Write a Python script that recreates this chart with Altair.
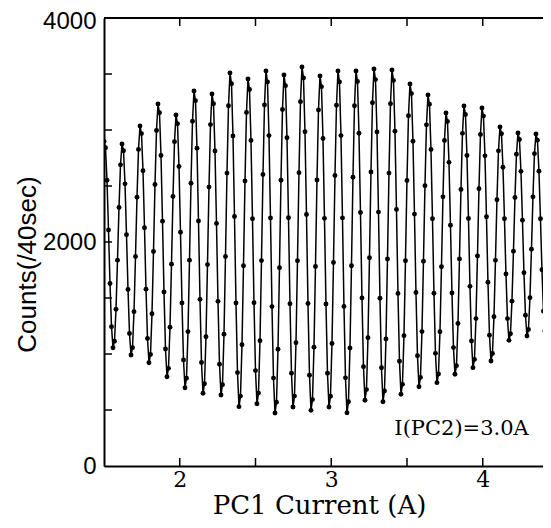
import altair as alt
import pandas as pd

# Scan of PC1 current (A): regular grid
x_start = 1.50
x_step = 0.0099

# Counts (/40sec), one row per oscillation period
counts = [
    2900, 2841, 2551, 2107, 1629, 1244, 1056, 1114, 1400, 1838, 2309, 2689,
    2875, 2815, 2519, 2065, 1577, 1183, 991, 1056, 1378, 1870, 2400, 2827,
    3036, 2968, 2636, 2127, 1579, 1138, 922, 996, 1359, 1915, 2514, 2996,
    3232, 3154, 2772, 2185, 1554, 1045, 797, 872, 1239, 1802, 2407, 2896,
    3134, 3056, 2674, 2087, 1456, 947, 699, 784, 1200, 1838, 2524, 3078,
    3348, 3262, 2838, 2187, 1488, 924, 649, 735, 1154, 1798, 2490, 3048,
    3321, 3235, 2813, 2166, 1470, 908, 634, 726, 1177, 1870, 2615, 3216,
    3509, 3414, 2946, 2228, 1456, 834, 530, 624, 1083, 1788, 2545, 3157,
    3455, 3362, 2907, 2208, 1458, 852, 556, 651, 1118, 1834, 2603, 3224,
    3527, 3429, 2950, 2214, 1423, 785, 473, 570, 1043, 1771, 2552, 3183,
    3491, 3396, 2931, 2216, 1449, 829, 527, 624, 1101, 1832, 2619, 3253,
    3563, 3465, 2984, 2245, 1451, 810, 497, 593, 1061, 1781, 2554, 3178,
    3482, 3387, 2924, 2211, 1446, 828, 527, 623, 1094, 1817, 2594, 3221,
    3527, 3429, 2950, 2215, 1425, 787, 476, 574, 1053, 1788, 2578, 3216,
    3527, 3433, 2971, 2263, 1501, 887, 587, 682, 1146, 1859, 2625, 3243,
    3545, 3450, 2983, 2267, 1498, 877, 574, 669, 1134, 1848, 2615, 3234,
    3536, 3443, 2989, 2291, 1541, 935, 640, 729, 1164, 1832, 2549, 3128,
    3411, 3325, 2900, 2249, 1549, 984, 708, 791, 1200, 1828, 2502, 3046,
    3312, 3230, 2827, 2208, 1543, 1006, 744, 821, 1199, 1779, 2403, 2906,
    3152, 3077, 2711, 2149, 1545, 1057, 819, 896, 1272, 1849, 2469, 2970,
    3214, 3139, 2772, 2210, 1604, 1116, 878, 952, 1316, 1875, 2475, 2960,
    3196, 3124, 2769, 2225, 1640, 1168, 938, 1005, 1333, 1836, 2377, 2814,
    3027, 2966, 2667, 2208, 1714, 1316, 1122, 1181, 1472, 1918, 2397, 2784,
    2973, 2915, 2631, 2194, 1725, 1346, 1161, 1219, 1502, 1936, 2403, 2789,
    2964, 2908, 2632, 2208, 1752, 1384, 1205, 1259, 1525, 1934, 2373, 2727,
]

x_label_values = [2, 3, 4]
y_label_values = [0, 2000, 4000]
x_tick_values = [2.0, 2.5, 3.0, 3.5, 4.0]
y_tick_values = [500, 1000, 1500, 2000, 2500, 3000, 3500]

annotation_text = ["I(PC2)=3.0A"]
annotation_x = [3.86]
annotation_y = [330]

SERIF = "'DejaVu Serif', 'Liberation Serif', 'Noto Serif', serif"
SANS = "'Liberation Sans', Arial, sans-serif"

df = pd.DataFrame({
    "current": [x_start + i * x_step for i in range(len(counts))],
    "counts": counts,
})
xt = pd.DataFrame({"v": x_tick_values})
yt = pd.DataFrame({"v": y_tick_values})
ann = pd.DataFrame({"x": annotation_x, "y": annotation_y, "t": annotation_text})

W, H = 439, 448
x_max = 1.5 + W / 151.5
xscale = alt.Scale(domain=[1.5, x_max], nice=False, zero=False)
yscale = alt.Scale(domain=[0, 4000], nice=False)

x_axis = alt.Axis(
    values=x_label_values, title="PC1 Current (A)", grid=False, ticks=False,
    domain=True, domainColor="black", domainWidth=2,
    labelFont=SERIF, labelFontSize=22, labelPadding=3, labelColor="black",
    labelFlush=False, format="d",
    titleFont=SERIF, titleFontSize=26, titleFontWeight="normal", titleColor="black",
    titleX=215, titleY=39, titleBaseline="middle", titleAlign="center",
)
y_axis = alt.Axis(
    values=y_label_values, title="Counts(/40sec)", grid=False, ticks=False,
    domain=True, domainColor="black", domainWidth=2,
    labelFont=SANS, labelFontSize=24, labelPadding=8, labelColor="black",
    labelFlush=False, format="d",
    labelOffset={"condition": {"test": "datum.value == 4000", "value": 3}, "value": 0},
    titleFont=SANS, titleFontSize=26, titleFontWeight="normal", titleColor="black",
    titleX=-77, titleY=246, titleBaseline="middle", titleAlign="center", titleAngle=270,
)

X = alt.X("current:Q", scale=xscale, axis=x_axis)
Y = alt.Y("counts:Q", scale=yscale, axis=y_axis)

base = alt.Chart(df)
line = base.mark_line(color="black", strokeWidth=1.5, clip=True).encode(x=X, y=Y)
pts = base.mark_circle(color="black", size=24, opacity=1, clip=True).encode(x=X, y=Y)

tick_len = 8
ylt = alt.Chart(yt).mark_rule(color="black", strokeWidth=1.5).encode(
    y=alt.Y("v:Q", scale=yscale, axis=y_axis), x=alt.value(0), x2=alt.value(tick_len))
xbt = alt.Chart(xt).mark_rule(color="black", strokeWidth=1.5).encode(
    x=alt.X("v:Q", scale=xscale, axis=x_axis), y=alt.value(H), y2=alt.value(H - tick_len))
xtt = alt.Chart(xt).mark_rule(color="black", strokeWidth=1.5).encode(
    x=alt.X("v:Q", scale=xscale, axis=x_axis), y=alt.value(0), y2=alt.value(tick_len))
top_line = alt.Chart(xt).mark_rule(color="black", strokeWidth=2).encode(
    y=alt.value(0), x=alt.value(0), x2=alt.value(W))

label = alt.Chart(ann).mark_text(
    font=SERIF, fontSize=21, color="black", align="center", baseline="middle"
).encode(
    x=alt.X("x:Q", scale=xscale, axis=x_axis),
    y=alt.Y("y:Q", scale=yscale, axis=y_axis),
    text="t:N",
)

chart = alt.layer(line, pts, ylt, xbt, xtt, top_line, label).properties(
    width=W, height=H,
    autosize=alt.AutoSizeParams(type="none"),
    padding={"left": 96, "top": 10, "right": 0, "bottom": 54},
    background="white",
).configure_view(stroke=None)

chart.save("out.html", embed_options={"renderer": "svg", "actions": False})
